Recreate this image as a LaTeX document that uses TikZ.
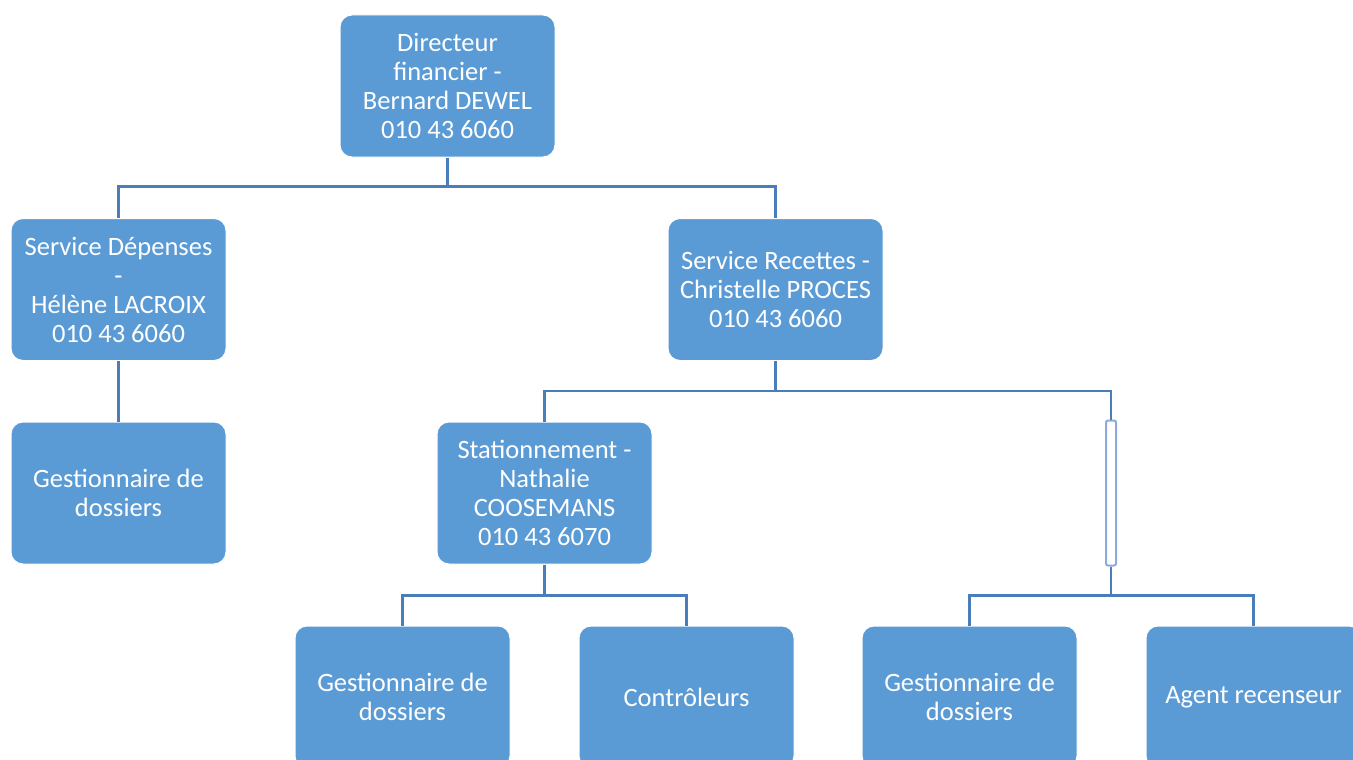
\documentclass[tikz,border=0pt]{standalone}
\usepackage{fontspec}
\setmainfont{Carlito}
\definecolor{boxblue}{HTML}{5B9BD5}
\definecolor{linkblue}{HTML}{4A7EBB}
\definecolor{paleblue}{HTML}{8EAADB}
\tikzset{
  unit/.style={draw=white, line width=1pt, fill=boxblue, rounded corners=12pt,
    minimum width=215pt, minimum height=142pt, inner sep=0pt, align=center,
    text=white, font=\fontsize{26.5}{29}\selectfont},
  spacer/.style={draw=paleblue, line width=2pt, fill=white, rounded corners=2pt,
    minimum width=10pt, minimum height=145pt, inner sep=0pt},
  link/.style={draw=linkblue, line width=2.5pt}
}
\begin{document}
\begin{tikzpicture}[x=1pt, y=-1pt]
    \useasboundingbox (0,0) rectangle (1353,760);
    \clip (0,0) rectangle (1353,760);
    % top level
    \node[unit] (dir) at (447.5,86) {Directeur\\financier -\\Bernard DEWEL\\010 43 6060};
    % services
    \node[unit] (dep) at (118.5,289.5) {Service Dépenses\\-\\Hélène LACROIX\\010 43 6060};
    \node[unit] (rec) at (775.5,289.5) {Service Recettes -\\Christelle PROCES\\010 43 6060};
    \node[unit] (depgest) at (118.5,493) {Gestionnaire de\\dossiers};
    \node[unit] (stat) at (544.5,493) {Stationnement -\\Nathalie\\COOSEMANS\\010 43 6070};
    \node[spacer] (gap) at (1111,493) {};
    % bottom row
    \node[unit] (statgest) at (402.5,697) {Gestionnaire de\\dossiers};
    \node[unit] (ctrl) at (686.5,697) {Contrôleurs};
    \node[unit] (recgest) at (969.5,697) {Gestionnaire de\\dossiers};
    \node[unit] (agent) at (1253.5,697) {Agent recenseur};
    % connectors
    \draw[link] (dir.south) -- ++(0,29) -| (dep.north);
    \draw[link] (dir.south) -- ++(0,29) -| (rec.north);
    \draw[link] (dep.south) -- (depgest.north);
    \draw[link] (rec.south) -- ++(0,30) -| (stat.north);
    \draw[link] (rec.south) -- ++(0,30) -| (gap.north);
    \draw[link] (stat.south) -- ++(0,31) -| (statgest.north);
    \draw[link] (stat.south) -- ++(0,31) -| (ctrl.north);
    \draw[link] (gap.south) -- ++(0,29) -| (recgest.north);
    \draw[link] (gap.south) -- ++(0,29) -| (agent.north);
\end{tikzpicture}
\end{document}
